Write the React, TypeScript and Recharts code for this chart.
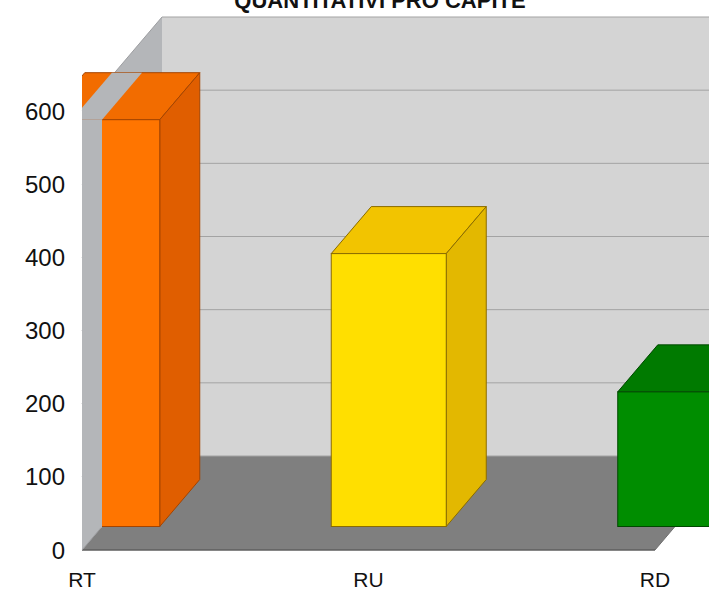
import { BarChart, Bar, XAxis, YAxis, CartesianGrid, ReferenceArea } from 'recharts'

const title = 'QUANTITATIVI PRO CAPITE'
const categories = ['RT', 'RU', 'RD']
const values = [556, 373, 184]
const yTicks = [0, 100, 200, 300, 400, 500, 600]
const xTicks = [0, 1, 2]

const data = categories.map((name, i) => ({ name, pos: i, value: values[i] }))

// colori delle facce dei parallelepipedi
const faces = [
  { front: '#ff7500', top: '#f26c00', side: '#e05e00', edge: '#a44400' },
  { front: '#ffdf00', top: '#f2c400', side: '#e3b800', edge: '#8a6c00' },
  { front: '#008d00', top: '#007a00', side: '#006a00', edge: '#004800' },
]

const FONT = '"Liberation Sans", Arial, sans-serif'
const DX = 80 // profondità del pavimento (px)
const DY = 94
const WALL = '#b4b6b9'

const pts = (a: number[][]) => a.map((q) => q.join(',')).join(' ')

/** pareti e pavimento, costruiti dal rettangolo dell'area del grafico */
function Walls(p: any) {
  const l = p.x
  const r = p.x + p.width
  const t = p.y
  const b = p.y + p.height
  return (
    <g>
      <defs>
        <clipPath id="plot-clip">
          <rect x={l} y={-1000} width={3000} height={3000} />
        </clipPath>
      </defs>
      <polygon points={pts([[l + DX, t - DY], [r + DX, t - DY], [r + DX, b - DY], [l + DX, b - DY]])} fill="#d4d4d4" />
      <polygon points={pts([[l, t], [l + DX, t - DY], [l + DX, b - DY], [l, b]])} fill={WALL} />
      <polygon points={pts([[l, b], [r, b], [r + DX, b - DY], [l + DX, b - DY]])} fill="#7f7f7f" />
      <line x1={l} y1={b} x2={r} y2={b} stroke="#5e5e5e" strokeWidth={1.5} />
      <line x1={r} y1={b} x2={r + DX} y2={b - DY} stroke="#6e6e6e" />
    </g>
  )
}

/** linea di griglia: parete di fondo + parete sinistra */
function GridLine(p: any) {
  const { x1, y1, x2 } = p
  return (
    <g key={p.key}>
      <line x1={x1 + DX} y1={y1 - DY} x2={x2 + DX} y2={y1 - DY} stroke="#a3a3a3" />
      <line x1={x1} y1={y1} x2={x1 + DX} y2={y1 - DY} stroke="#9d9ea1" />
    </g>
  )
}

function Bar3D(p: any) {
  const { x, y, width: w, height: h, index } = p
  const c = faces[index]
  const fx = x + DX / 4
  const fy = y - DY / 4
  const bx = DX / 2
  const by = DY / 2
  return (
    <g clipPath="url(#plot-clip)">
      <polygon points={pts([[fx, fy], [fx + w, fy], [fx + w + bx, fy - by], [fx + bx, fy - by]])} fill={c.top} stroke={c.edge} strokeWidth={1} />
      <polygon points={pts([[fx + w, fy], [fx + w + bx, fy - by], [fx + w + bx, fy + h - by], [fx + w, fy + h]])} fill={c.side} stroke={c.edge} strokeWidth={1} />
      <rect x={fx} y={fy} width={w} height={h} fill={c.front} stroke={c.edge} strokeWidth={1} />
    </g>
  )
}

/** pezzo di parete sinistra che copre la prima barra */
function WallSlice(p: any) {
  const fx = p.x + DX / 4
  const fy = p.y - DY / 4
  const w = p.width
  const h = p.height
  return (
    <g clipPath="url(#plot-clip)">
      <rect x={fx} y={fy} width={w} height={h + 1} fill={WALL} />
      <polygon points={pts([[fx, fy], [fx + w, fy], [fx + w + DX / 2, fy - DY / 2], [fx + DX / 2, fy - DY / 2]])} fill={WALL} />
    </g>
  )
}

export default function App() {
  return (
    <div style={{ position: 'absolute', left: 0, top: 0, width: 709, height: 590, overflow: 'hidden', background: '#fff' }}>
      <div
        style={{
          position: 'absolute',
          left: 380,
          top: -10,
          transform: 'translateX(-50%)',
          whiteSpace: 'nowrap',
          fontFamily: FONT,
          fontWeight: 700,
          fontSize: 22,
          lineHeight: '22px',
          color: '#111',
        }}
      >
        {title}
      </div>
      <BarChart width={709} height={590} data={data} margin={{ top: 111, right: 54, bottom: 0, left: 0 }}>
        <ReferenceArea x1={0} x2={2} y1={0} y2={600} shape={Walls} zIndex={-200} ifOverflow="visible" />
        <CartesianGrid vertical={false} horizontal={GridLine} zIndex={-100} />
        <XAxis
          type="number"
          dataKey="pos"
          domain={[0, 2]}
          ticks={xTicks}
          tickFormatter={(v: number) => categories[v]}
          height={40}
          axisLine={false}
          tickLine={false}
          tickSize={0}
          tickMargin={22}
          tick={{ fontSize: 21, fill: '#111', fontFamily: FONT }}
        />
        <YAxis
          domain={[0, 600]}
          ticks={yTicks}
          width={82}
          axisLine={false}
          tickLine={false}
          tickSize={0}
          tickMargin={17}
          tick={{ fontSize: 24, fill: '#111', fontFamily: FONT }}
        />
        <Bar dataKey="value" barSize={115} shape={Bar3D} isAnimationActive={false} />
        <ReferenceArea x1={-0.105} x2={0} y1={0} y2={values[0]} shape={WallSlice} zIndex={350} ifOverflow="visible" />
      </BarChart>
    </div>
  )
}
